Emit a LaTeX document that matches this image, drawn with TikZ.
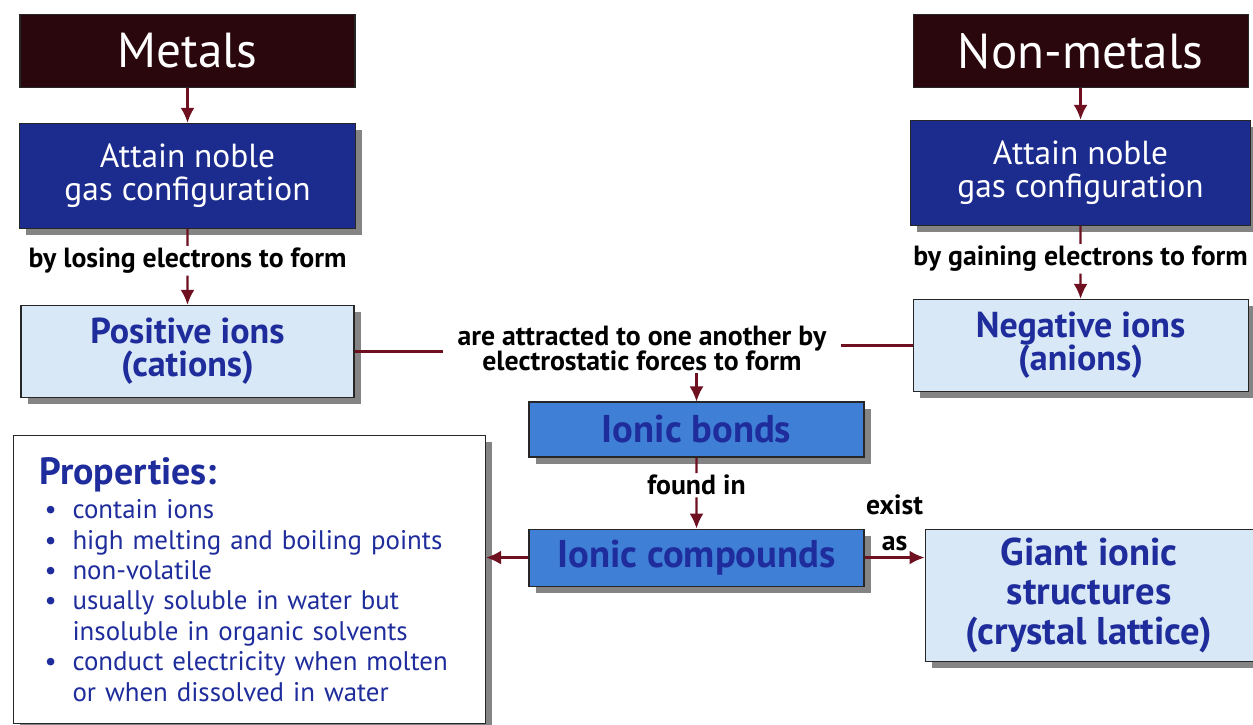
\documentclass[tikz,border=0pt]{standalone}
\usepackage{fontspec}
\setmainfont{PT Sans}
\usepackage{tikz}
\usetikzlibrary{arrows.meta, positioning, calc, shadows}
\definecolor{cTitle}{HTML}{2A070C}
\definecolor{cNavy}{HTML}{1C2B8E}
\definecolor{cIon}{HTML}{D9E8F6}
\definecolor{cBond}{HTML}{3F7FD6}
\definecolor{cInk}{HTML}{1F2D9C}
\definecolor{cArrow}{HTML}{6E1020}

\newcommand{\pitem}{\makebox[0.66cm][l]{\hspace{0.1cm}\textbullet}}
\newcommand{\pcont}{\hspace{0.66cm}}

\begin{document}
\begin{tikzpicture}[
  box/.style={draw=black!85, line width=0.6pt, align=center, inner sep=2pt},
  shbox/.style={box, drop shadow={shadow xshift=0.13cm, shadow yshift=-0.13cm, fill=black!80, opacity=0.6}},
  titlebox/.style={box, fill=cTitle, text=white, minimum width=6.7cm, minimum height=1.45cm, font=\fontsize{28}{30}\selectfont},
  navybox/.style={shbox, fill=cNavy, text=white, minimum height=2.1cm, font=\fontsize{19}{19}\selectfont},
  ionbox/.style={shbox, fill=cIon, text=cInk, font=\bfseries\fontsize{20.5}{19}\selectfont},
  bondbox/.style={shbox, fill=cBond, text=cInk, minimum width=6.7cm, font=\bfseries\fontsize{22}{22}\selectfont},
  propbox/.style={shbox, fill=white, text=cInk, align=left, text width=8.4cm, inner xsep=0.52cm, minimum height=5.76cm, font=\fontsize{15.3}{17.3}\selectfont},
  lbl/.style={align=center, inner sep=1pt, font=\bfseries\fontsize{15.8}{14.5}\selectfont},
  arr/.style={-{Latex[length=3mm, width=2.8mm]}, line width=1.3pt, draw=cArrow},
  link/.style={line width=1.3pt, draw=cArrow}
]
\fill[white] (0,0) rectangle (25.06,-14.5);
\useasboundingbox (0,0) rectangle (25.06,-14.5);

% top row
\node[titlebox] (metals) at (3.75,-1.02) {Metals};
\node[titlebox, right=11.14cm of metals] (nonmetals) {Non-metals};
\node[navybox, minimum width=6.72cm, below=0.7cm of metals] (lattain) {Attain noble\\gas configuration};
\node[navybox, minimum width=6.8cm, below=0.64cm of nonmetals] (rattain) {Attain noble\\gas configuration};

% ions
\node[ionbox, minimum width=6.66cm, minimum height=1.84cm, below=1.52cm of lattain] (pos) {Positive ions\\(cations)};
\node[ionbox, minimum width=6.7cm, minimum height=1.84cm, below=1.46cm of rattain] (neg) {Negative ions\\(anions)};
\node[lbl] (lose) at ($(lattain.south)!0.42!(pos.north)$) {by losing electrons to form};
\node[lbl] (gain) at ($(rattain.south)!0.45!(neg.north)$) {by gaining electrons to form};
\node[lbl, inner xsep=8pt] (attract) at ($(pos.east)!0.515!(neg.west)$) {are attracted to one another by\\electrostatic forces to form};

% bonds and compounds
\node[bondbox, minimum height=1.1cm] (bonds) at (13.93,-8.59) {Ionic bonds};
\node[bondbox, minimum height=1.14cm, below=1.42cm of bonds] (comp) {Ionic compounds};
\node[lbl] (found) at ($(bonds.south)!0.39!(comp.north)$) {found in};
\node[ionbox, minimum width=6.56cm, minimum height=2.64cm, font=\bfseries\fontsize{22}{22.5}\selectfont, right=1.2cm of comp.north east, anchor=north west] (giant) {Giant ionic\\structures\\(crystal lattice)};
\node[lbl, yshift=0.11cm] (exist) at ($(comp.north east)!0.5!(giant.north west)$) {exist\\[6pt]as};

\node[propbox, anchor=north west] (props) at (0.26,-8.7) {%
  {\bfseries\fontsize{21.6}{22}\selectfont Properties:}\\[2pt]
  \pitem contain ions\\
  \pitem high melting and boiling points\\
  \pitem non-volatile\\
  \pitem usually soluble in water but\\
  \pcont insoluble in organic solvents\\
  \pitem conduct electricity when molten\\
  \pcont or when dissolved in water};

% connectors
\draw[arr] (metals) -- (lattain);
\draw[arr] (nonmetals) -- (rattain);
\draw[link] (lattain) -- (lose);
\draw[arr] (lose) -- (pos);
\draw[link] (rattain) -- (gain);
\draw[arr] (gain) -- (neg);
\draw[link] (pos.east) -- (pos.east -| attract.west);
\draw[link] (neg.west) -- (neg.west -| attract.east);
\draw[arr] (attract.south -| bonds.north) -- (bonds.north);
\draw[link] (bonds) -- (found);
\draw[arr] (found) -- (comp);
\draw[arr] (comp.west) -- (comp.west -| props.east);
\draw[arr] (comp.east) -- (comp.east -| giant.west);
\end{tikzpicture}
\end{document}
